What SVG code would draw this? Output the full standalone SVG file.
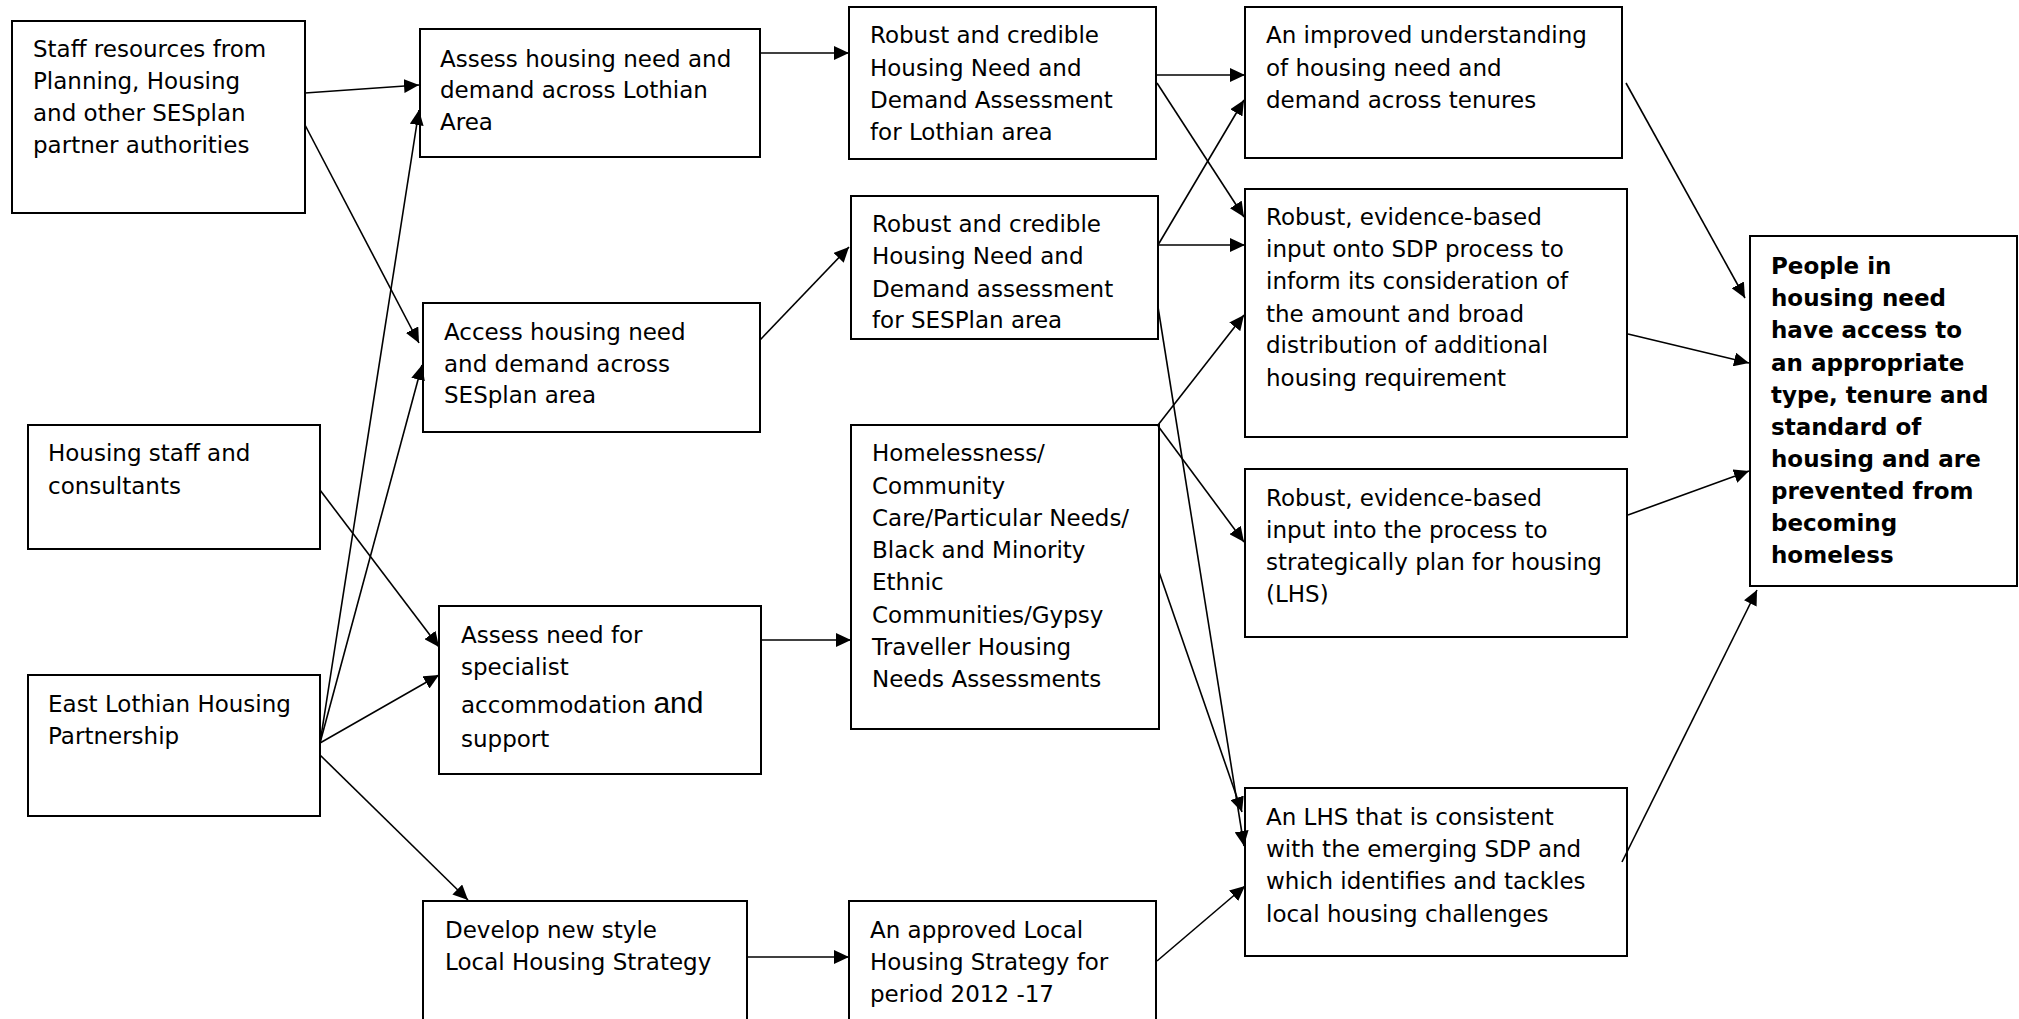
<svg xmlns="http://www.w3.org/2000/svg" width="2019" height="1019" viewBox="0 0 2019 1019">
<style>
.box{fill:#fff;stroke:#000;stroke-width:2}
.t{font-family:"DejaVu Sans",Verdana,sans-serif;font-size:23px;fill:#000}
.b{font-family:"DejaVu Sans",Verdana,sans-serif;font-size:23px;font-weight:bold;fill:#000}
.big{font-family:"Liberation Sans",Arial,sans-serif;font-size:30px}
.c line{stroke:#000;stroke-width:1.6;fill:none;marker-end:url(#ah)}
</style>
<defs>
<marker id="ah" markerUnits="userSpaceOnUse" markerWidth="16" markerHeight="14" refX="15" refY="7" orient="auto">
<path d="M0,0 L15,7 L0,14 z" fill="#000"/>
</marker>
</defs>
<rect width="2019" height="1019" fill="#fff"/>

<g id="staff">
<rect class="box" x="12" y="21" width="293" height="192"/>
<text class="t" x="33"><tspan x="33" y="57">Staff resources from</tspan><tspan x="33" y="89">Planning, Housing</tspan><tspan x="33" y="121">and other SESplan</tspan><tspan x="33" y="153">partner authorities</tspan></text>
</g>
<g id="housingStaff">
<rect class="box" x="28" y="425" width="292" height="124"/>
<text class="t"><tspan x="48" y="461">Housing staff and</tspan><tspan x="48" y="494">consultants</tspan></text>
</g>
<g id="eastLothian">
<rect class="box" x="28" y="675" width="292" height="141"/>
<text class="t"><tspan x="48" y="712">East Lothian Housing</tspan><tspan x="48" y="744">Partnership</tspan></text>
</g>
<g id="assessLothian">
<rect class="box" x="420" y="29" width="340" height="128"/>
<text class="t"><tspan x="440" y="67">Assess housing need and</tspan><tspan x="440" y="98">demand across Lothian</tspan><tspan x="440" y="130">Area</tspan></text>
</g>
<g id="accessSES">
<rect class="box" x="423" y="303" width="337" height="129"/>
<text class="t"><tspan x="444" y="340">Access housing need</tspan><tspan x="444" y="372">and demand across</tspan><tspan x="444" y="403">SESplan area</tspan></text>
</g>
<g id="specialist">
<rect class="box" x="439" y="606" width="322" height="168"/>
<text class="t"><tspan x="461" y="643">Assess need for</tspan><tspan x="461" y="675">specialist</tspan><tspan x="461" y="713">accommodation <tspan class="big">and</tspan></tspan><tspan x="461" y="747">support</tspan></text>
</g>
<g id="develop">
<rect class="box" x="423" y="901" width="324" height="140"/>
<text class="t"><tspan x="445" y="938">Develop new style</tspan><tspan x="445" y="970">Local Housing Strategy</tspan></text>
</g>
<g id="lothianHNDA">
<rect class="box" x="849" y="7" width="307" height="152"/>
<text class="t"><tspan x="870" y="43">Robust and credible</tspan><tspan x="870" y="76">Housing Need and</tspan><tspan x="870" y="108">Demand Assessment</tspan><tspan x="870" y="140">for Lothian area</tspan></text>
</g>
<g id="sesHNDA">
<rect class="box" x="851" y="196" width="307" height="143"/>
<text class="t"><tspan x="872" y="232">Robust and credible</tspan><tspan x="872" y="264">Housing Need and</tspan><tspan x="872" y="297">Demand assessment</tspan><tspan x="872" y="328">for SESPlan area</tspan></text>
</g>
<g id="homeless">
<rect class="box" x="851" y="425" width="308" height="304"/>
<text class="t"><tspan x="872" y="461">Homelessness/</tspan><tspan x="872" y="494">Community</tspan><tspan x="872" y="526">Care/Particular Needs/</tspan><tspan x="872" y="558">Black and Minority</tspan><tspan x="872" y="590">Ethnic</tspan><tspan x="872" y="623">Communities/Gypsy</tspan><tspan x="872" y="655">Traveller Housing</tspan><tspan x="872" y="687">Needs Assessments</tspan></text>
</g>
<g id="approved">
<rect class="box" x="849" y="901" width="307" height="140"/>
<text class="t"><tspan x="870" y="938">An approved Local</tspan><tspan x="870" y="970">Housing Strategy for</tspan><tspan x="870" y="1002">period 2012 -17</tspan></text>
</g>
<g id="improved">
<rect class="box" x="1245" y="7" width="377" height="151"/>
<text class="t"><tspan x="1266" y="43">An improved understanding</tspan><tspan x="1266" y="76">of housing need and</tspan><tspan x="1266" y="108">demand across tenures</tspan></text>
</g>
<g id="sdp">
<rect class="box" x="1245" y="189" width="382" height="248"/>
<text class="t"><tspan x="1266" y="225">Robust, evidence-based</tspan><tspan x="1266" y="257">input onto SDP process to</tspan><tspan x="1266" y="289">inform its consideration of</tspan><tspan x="1266" y="322">the amount and broad</tspan><tspan x="1266" y="353">distribution of additional</tspan><tspan x="1266" y="386">housing requirement</tspan></text>
</g>
<g id="lhsEvidence">
<rect class="box" x="1245" y="469" width="382" height="168"/>
<text class="t"><tspan x="1266" y="506">Robust, evidence-based</tspan><tspan x="1266" y="538">input into the process to</tspan><tspan x="1266" y="570">strategically plan for housing</tspan><tspan x="1266" y="602">(LHS)</tspan></text>
</g>
<g id="anLHS">
<rect class="box" x="1245" y="788" width="382" height="168"/>
<text class="t"><tspan x="1266" y="825">An LHS that is consistent</tspan><tspan x="1266" y="857">with the emerging SDP and</tspan><tspan x="1266" y="889">which identifies and tackles</tspan><tspan x="1266" y="922">local housing challenges</tspan></text>
</g>
<g id="people">
<rect class="box" x="1750" y="236" width="267" height="350"/>
<text class="b"><tspan x="1771" y="274">People in</tspan><tspan x="1771" y="306">housing need</tspan><tspan x="1771" y="338">have access to</tspan><tspan x="1771" y="371">an appropriate</tspan><tspan x="1771" y="403">type, tenure and</tspan><tspan x="1771" y="435">standard of</tspan><tspan x="1771" y="467">housing and are</tspan><tspan x="1771" y="499">prevented from</tspan><tspan x="1771" y="531">becoming</tspan><tspan x="1771" y="563">homeless</tspan></text>
</g>

<g id="connectors" class="c">
<line x1="305" y1="93" x2="419" y2="85"/>
<line x1="305" y1="125" x2="419" y2="343"/>
<line x1="320" y1="743" x2="419" y2="110"/>
<line x1="320" y1="743" x2="422" y2="365"/>
<line x1="320" y1="490" x2="439" y2="647"/>
<line x1="320" y1="743" x2="439" y2="675"/>
<line x1="320" y1="755" x2="468" y2="900"/>
<line x1="760" y1="53" x2="849" y2="53"/>
<line x1="760" y1="340" x2="849" y2="247"/>
<line x1="761" y1="640" x2="851" y2="640"/>
<line x1="747" y1="957" x2="849" y2="957"/>
<line x1="1156" y1="75" x2="1245" y2="75"/>
<line x1="1157" y1="83" x2="1244" y2="217"/>
<line x1="1158" y1="245" x2="1245" y2="245"/>
<line x1="1158" y1="245" x2="1244" y2="100"/>
<line x1="1158" y1="307" x2="1244" y2="846"/>
<line x1="1158" y1="425" x2="1244" y2="315"/>
<line x1="1158" y1="426" x2="1244" y2="542"/>
<line x1="1159" y1="572" x2="1242" y2="812"/>
<line x1="1157" y1="961" x2="1245" y2="886"/>
<line x1="1626" y1="83" x2="1745" y2="298"/>
<line x1="1628" y1="334" x2="1749" y2="363"/>
<line x1="1628" y1="515" x2="1749" y2="471"/>
<line x1="1622" y1="862" x2="1757" y2="590"/>
</g>
</svg>
